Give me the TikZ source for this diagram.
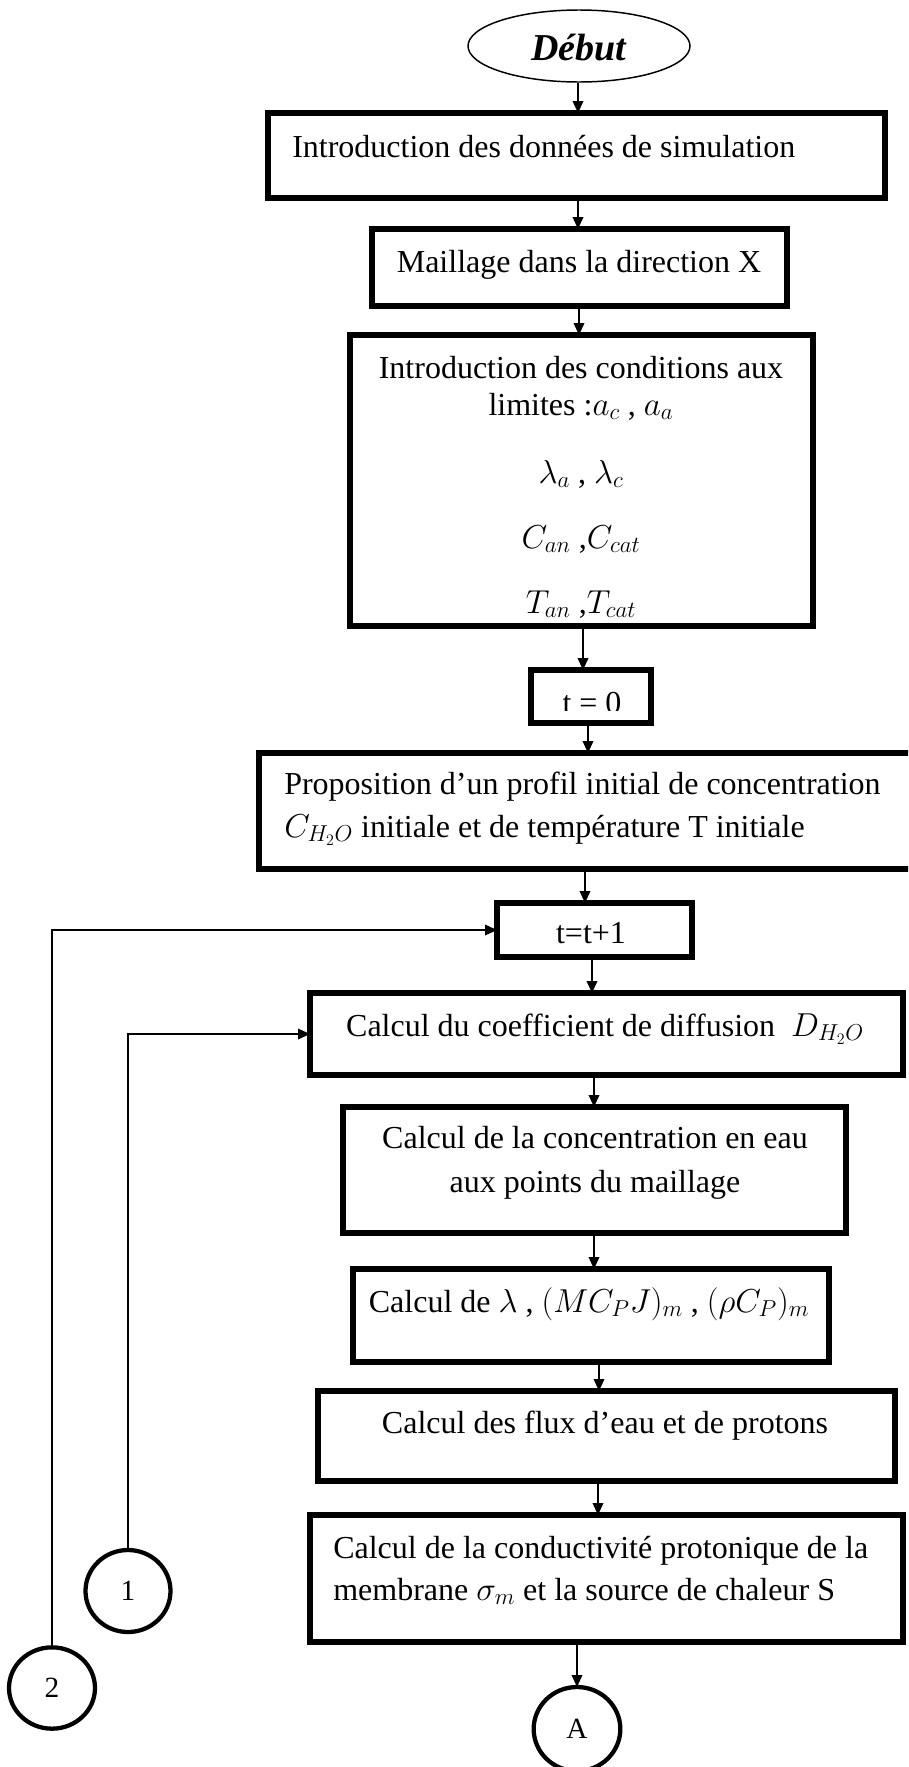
\documentclass[tikz,border=0pt]{standalone}
\usepackage{fontspec}
\setmainfont{Liberation Serif}
\usetikzlibrary{arrows.meta,shapes.geometric}
\begin{document}
\begin{tikzpicture}[x=0.75pt,y=-0.75pt,
  box/.style={draw, line width=4pt, rectangle, inner sep=0pt, outer sep=0pt},
  conn/.style={draw, line width=3.2pt, ellipse, inner sep=0pt, outer sep=0pt, font=\fontsize{22}{26}\selectfont},
  txt/.style={inner sep=0pt, font=\fontsize{24}{28}\selectfont},
  arr/.style={line width=1.1pt, -{Triangle[length=9pt,width=8pt]}},
  loop/.style={line width=0.9pt, -{Triangle[length=9pt,width=8pt]}}]
\clip (0,0) rectangle (908,1767);
% start
\node[draw, ellipse, line width=1.1pt, minimum width=166.5pt, minimum height=54pt, inner sep=0pt] (deb) at (579,46) {};
\node[txt, font=\fontsize{28.5}{32}\selectfont\bfseries\itshape, anchor=base] (debt) at (579,60) {Début};
% boxes
\node[box, minimum width=462.75pt, minimum height=63.75pt] (b1) at (576.5,155.5) {};
\node[txt, anchor=base west] (b1t) at (292,157) {Introduction des données de simulation};
\node[box, minimum width=311.25pt, minimum height=57.75pt] (b2) at (579.5,267.5) {};
\node[txt, anchor=base] (b2t) at (579,272) {Maillage dans la direction X};
\node[box, minimum width=347.25pt, minimum height=218.25pt] (b3) at (581.5,480.5) {};
\node[txt, anchor=base] (b3a) at (581,378) {Introduction des conditions aux};
\node[txt, anchor=base] (b3b) at (581,415) {limites :$a_c$ , $a_a$};
\node[txt, anchor=base] (b3c) at (581,483) {$\lambda_a$ , $\lambda_c$};
\node[txt, anchor=base] (b3d) at (581,548) {$C_{an}$ ,$C_{cat}$};
\node[txt, anchor=base] (b3e) at (581,613) {$T_{an}$ ,$T_{cat}$};
\node[box, minimum width=90pt, minimum height=39.75pt] (t0) at (591,696.5) {};
\begin{scope}
\clip (531,670) rectangle (651,710);
\node[txt, anchor=base] (t0t) at (592,713) {t = 0};
\end{scope}
\node[box, minimum width=525.75pt, minimum height=87pt] (prop) at (609.5,811) {};
\node[txt, anchor=base west] (propa) at (284,794) {Proposition d’un profil initial de concentration};
\node[txt, anchor=base west] (propb) at (284,837) {$C_{H_2O}$ initiale et de température T initiale};
\node[box, minimum width=146.25pt, minimum height=40.5pt] (tt) at (594.5,930) {};
\node[txt, anchor=base] (ttt) at (591,943) {t=t+1};
\node[box, minimum width=444.75pt, minimum height=61.5pt] (coef) at (606.5,1034) {};
\node[txt, anchor=base] (coeft) at (605,1036) {Calcul du coefficient de diffusion \ $D_{H_2O}$};
\node[box, minimum width=377.25pt, minimum height=94.5pt] (conc) at (594.5,1170) {};
\node[txt, anchor=base] (conca) at (595,1148) {Calcul de la concentration en eau};
\node[txt, anchor=base] (concb) at (595,1192) {aux points du maillage};
\node[box, minimum width=357pt, minimum height=69.75pt] (lam) at (591,1315.5) {};
\node[txt, anchor=base] (lamt) at (589,1312) {Calcul de $\lambda$ , $(MC_PJ)_m$ , $(\rho C_P)_m$};
\node[box, minimum width=432.75pt, minimum height=67.5pt] (flux) at (606.5,1436) {};
\node[txt, anchor=base] (fluxt) at (605,1433) {Calcul des flux d’eau et de protons};
\node[box, minimum width=444.75pt, minimum height=95.25pt] (cond) at (606.5,1578.5) {};
\node[txt, anchor=base west] (conda) at (333,1558) {Calcul de la conductivité protonique de la};
\node[txt, anchor=base west] (condb) at (333,1600) {membrane $\sigma_m$ et la source de chaleur S};
% connectors
\node[conn, minimum width=63.75pt, minimum height=61.5pt] (c1) at (128,1591) {1};
\node[conn, minimum width=64.5pt, minimum height=61pt] (c2) at (52,1688) {2};
\node[conn, minimum width=65pt, minimum height=63pt] (cA) at (577,1729) {A};
% arrows
\draw[arr] (deb.south -| 578,0) -- (b1.north -| 578,0);
\draw[arr] (b1.south -| 578,0) -- (b2.north -| 578,0);
\draw[arr] (b2.south -| 579,0) -- (b3.north -| 579,0);
\draw[arr] (b3.south -| 583,0) -- (t0.north -| 583,0);
\draw[arr] (t0.south -| 588,0) -- (prop.north -| 588,0);
\draw[arr] (prop.south -| 585,0) -- (tt.north -| 585,0);
\draw[arr] (tt.south -| 592,0) -- (coef.north -| 592,0);
\draw[arr] (coef.south -| 594,0) -- (conc.north -| 594,0);
\draw[arr] (conc.south -| 594,0) -- (lam.north -| 594,0);
\draw[arr] (lam.south -| 599,0) -- (flux.north -| 599,0);
\draw[arr] (flux.south -| 598,0) -- (cond.north -| 598,0);
\draw[arr] (cond.south -| 577,0) -- (cA.north);
\draw[loop] (c2.north) |- (tt.west);
\draw[loop] (c1.north) |- (coef.west);
\end{tikzpicture}
\end{document}
